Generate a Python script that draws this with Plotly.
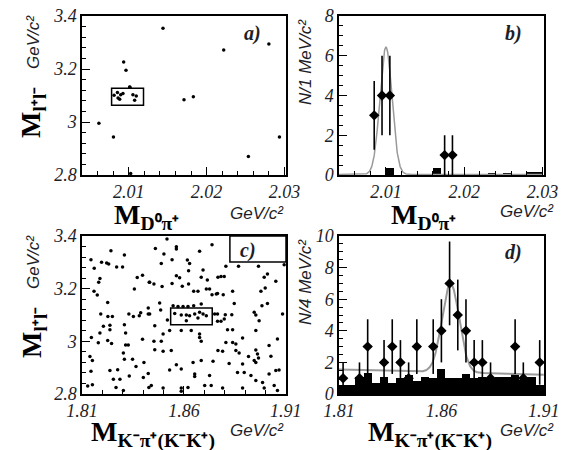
import numpy as np
import plotly.graph_objects as go

# ---------------- data ----------------
# a) scatter: M(D0 pi+) vs M(l+l-)
a_dm = [2.0144, 2.00935, 2.00965, 2.0222, 2.028, 2.0171, 2.0183, 2.00617, 2.00804,
        2.02537, 2.02936, 2.01016, 2.01025,
        2.00812, 2.00855, 2.00897, 2.00863, 2.00884, 2.00926, 2.01012, 2.01054, 2.01076, 2.01097]
a_mll = [3.354, 3.226, 3.195, 3.272, 3.294, 3.084, 3.095, 2.995, 2.943,
         2.870, 2.943, 3.131, 2.806,
         3.101, 3.111, 3.103, 3.091, 3.086, 3.108, 3.132, 3.103, 3.082, 3.098]

# b) M(D0 pi+) histogram, 1 MeV bins
b_x = [2.0085, 2.0095, 2.0105, 2.0175, 2.0185]
b_n = [3, 4, 4, 1, 1]
b_err = [1.73, 2.0, 2.0, 1.0, 1.0]
b_bkg_x = [2.0105, 2.0165, 2.0235, 2.0255, 2.0285, 2.0295]
b_bkg_n = [0.33, 0.33, 0.1, 0.1, 0.15, 0.15]
b_fit = dict(mean=2.0100, sigma=0.00077, amp=6.4, bkg=0.03)

# c) scatter: M(K- pi+ / K- K+) vs M(l+l-)
c_md = [1.8242, 1.8144, 1.8196, 1.8221, 1.8231, 1.8308, 1.8160, 1.8270, 1.8299, 1.8188,
        1.8182, 1.8371, 1.8397, 1.8430, 1.8159, 1.8175, 1.8357, 1.8226, 1.8192, 1.8227,
        1.8249, 1.8330, 1.8352, 1.8381, 1.8388, 1.8425, 1.8425, 1.8205, 1.8237, 1.8308,
        1.8188, 1.8237, 1.8314, 1.8146, 1.8180, 1.8226, 1.8245, 1.8314, 1.8327, 1.8397,
        1.8139, 1.8151, 1.8303, 1.8308, 1.8348, 1.8365, 1.8404, 1.8144, 1.8237, 1.8275,
        1.8254, 1.8286, 1.8332, 1.8401, 1.8425, 1.8128, 1.8151, 1.8267, 1.8303, 1.8428,
        1.8460, 1.8517, 1.8563, 1.8563, 1.8677, 1.8738, 1.8502, 1.8542, 1.8617, 1.8628,
        1.8489, 1.8623, 1.8694, 1.8563, 1.8579, 1.8685, 1.8715, 1.8432, 1.8453, 1.8493,
        1.8542, 1.8592, 1.8623, 1.8648, 1.8669, 1.8710, 1.8726, 1.8738, 1.8759, 1.8767,
        1.8481, 1.8486, 1.8432, 1.8519, 1.8457,
        1.8547, 1.8571, 1.8596, 1.8620, 1.8648, 1.8685, 1.8555, 1.8587, 1.8612, 1.8628,
        1.8653, 1.8677, 1.8694, 1.8710, 1.8612, 1.8669, 1.8751,
        1.8530, 1.8587, 1.8636, 1.8677, 1.8677, 1.8685, 1.8453, 1.8489, 1.8457, 1.8498,
        1.8538, 1.8498, 1.8767, 1.8563, 1.8587, 1.8645, 1.8685, 1.8743, 1.8530, 1.8653,
        1.8653, 1.8726, 1.8702, 1.8734, 1.8587, 1.8620, 1.8498, 1.8440, 1.8587,
        1.8806, 1.8868, 1.8966, 1.8782, 1.8798, 1.9010, 1.8994, 1.9051, 1.8765, 1.8793,
        1.8839, 1.8978, 1.8999, 1.8847, 1.8983, 1.9010, 1.8765, 1.8803, 1.8835, 1.8945,
        1.8953, 1.9084, 1.8765, 1.8782, 1.8798, 1.8969, 1.8814, 1.8839, 1.8953, 1.8888,
        1.9059, 1.8806, 1.8839, 1.8855, 1.8790, 1.8855, 1.8871, 1.8953, 1.8961, 1.9018,
        1.8917, 1.8945, 1.8953, 1.8966, 1.9027, 1.8822, 1.8888, 1.9051, 1.9067, 1.8863,
        1.8896, 1.8929, 1.9018, 1.8953, 1.8986, 1.9043, 1.9059, 1.8790, 1.8888, 1.8994,
        1.9092]
c_mll = [3.344, 3.310, 3.300, 3.297, 3.294, 3.328, 3.278, 3.282, 3.282, 3.239,
         3.224, 3.242, 3.251, 3.224, 3.190, 3.176, 3.199, 3.147, 3.104, 3.094,
         3.094, 3.104, 3.094, 3.097, 3.109, 3.127, 3.104, 3.057, 3.061, 3.063,
         3.032, 3.044, 3.032, 3.015, 2.995, 3.003, 2.992, 2.986, 2.986, 3.008,
         2.942, 2.927, 2.956, 2.932, 2.932, 2.904, 2.920, 2.886, 2.889, 2.892,
         2.856, 2.856, 2.868, 2.863, 2.878, 2.830, 2.835, 2.825, 2.813, 2.825,
         3.353, 3.389, 3.359, 3.351, 3.342, 3.367, 3.332, 3.310, 3.309, 3.296,
         3.296, 3.268, 3.271, 3.249, 3.241, 3.243, 3.233, 3.224, 3.218, 3.208,
         3.220, 3.209, 3.218, 3.190, 3.190, 3.199, 3.199, 3.177, 3.180, 3.243,
         3.146, 3.119, 3.104, 3.081, 3.059,
         3.135, 3.132, 3.132, 3.132, 3.135, 3.142, 3.106, 3.100, 3.100, 3.097,
         3.104, 3.110, 3.104, 3.097, 3.078, 3.089, 3.104,
         3.041, 3.041, 3.041, 3.028, 3.015, 3.000, 3.000, 3.000, 2.968, 2.962,
         2.965, 3.028, 2.965, 2.911, 2.895, 2.920, 2.927, 2.924, 2.891, 2.876,
         2.866, 2.870, 2.832, 2.832, 2.823, 2.825, 2.823, 2.832, 2.810,
         3.285, 3.285, 3.285, 3.246, 3.246, 3.256, 3.243, 3.228, 3.182, 3.177,
         3.190, 3.190, 3.203, 3.144, 3.135, 3.144, 3.104, 3.101, 3.101, 3.110,
         3.100, 3.104, 3.076, 3.076, 3.085, 3.078, 3.044, 3.044, 3.041, 3.013,
         3.009, 2.996, 2.996, 2.990, 2.962, 2.965, 2.956, 2.967, 2.952, 2.984,
         2.942, 2.927, 2.920, 2.937, 2.943, 2.916, 2.914, 2.889, 2.891, 2.882,
         2.882, 2.870, 2.876, 2.851, 2.844, 2.832, 2.813, 2.823, 2.823, 2.823,
         3.291]

# d) M(K- pi+ / K- K+) histogram, 4 MeV bins
D_LO, D_BIN, D_NBINS = 1.81, 0.004, 25
d_n = [1, 0, 1, 3, 0, 2, 3, 2, 1, 3, 0, 3, 4, 7, 5, 4, 2, 2, 1, 0, 0, 3, 1, 0, 2]
d_err = [1.0, 0, 1.0, 1.73, 0, 1.41, 1.73, 1.41, 1.0, 1.73, 0, 1.73, 2.0, 2.65, 2.24,
         2.0, 1.41, 1.41, 1.0, 0, 0, 1.73, 1.0, 0, 1.41]
d_bkg = [0.6, 0.6, 1.1, 1.3, 0.7, 1.1, 0.7, 1.0, 1.2, 0.8, 1.1, 1.0, 1.6, 1.0, 1.0,
         1.25, 1.0, 1.1, 1.0, 1.1, 1.1, 1.35, 0.9, 1.1, 0.6]
d_fit = dict(mean=1.8645, sigma=0.0042, amp=5.6, bkg_lo=1.55, bkg_hi=1.22)

# signal windows
SIG_DM = [2.0078, 2.0119]
SIG_MD = [1.8535, 1.8739]
SIG_MLL = [3.063, 3.127]

# tick labels
TICK_DM = [2.01, 2.02, 2.03]
TICK_MD = [1.81, 1.86, 1.91]
TICK_MLL = [2.8, 3.0, 3.2, 3.4]
LBL_DM = ["2.01", "2.02", "2.03"]
LBL_MD = ["1.81", "1.86", "1.91"]
LBL_MLL = ["2.8", "3", "3.2", "3.4"]
TICK_NB = [0, 2, 4, 6, 8]
TICK_ND = [0, 2, 4, 6, 8, 10]

# ---------------- figure ----------------
W, H = 563, 450
INK = "#1e1e28"
FIT = "#9a9a9a"

fig = go.Figure()

# a
fig.add_trace(go.Scatter(x=a_dm, y=a_mll, mode="markers", xaxis="x", yaxis="y",
                         marker=dict(color="black", size=3.5), showlegend=False))

# b
fig.add_trace(go.Bar(x=b_bkg_x, y=b_bkg_n, width=0.001, xaxis="x2", yaxis="y2",
                     marker=dict(color="black", line=dict(width=0)), showlegend=False))
bx = np.linspace(2.004, 2.03, 600)
by = b_fit["bkg"] + b_fit["amp"] * np.exp(-0.5 * ((bx - b_fit["mean"]) / b_fit["sigma"]) ** 2)
fig.add_trace(go.Scatter(x=bx, y=by, mode="lines", xaxis="x2", yaxis="y2",
                         line=dict(color=FIT, width=1.5), showlegend=False))
fig.add_trace(go.Scatter(x=b_x, y=b_n, mode="markers", xaxis="x2", yaxis="y2",
                         marker=dict(color="black", size=8, symbol="diamond"),
                         error_y=dict(type="data", array=b_err, width=0, thickness=1.6, color="black"),
                         error_x=dict(type="constant", value=0.0005, width=0, thickness=1.6, color="black"),
                         showlegend=False))

# c
fig.add_trace(go.Scatter(x=c_md, y=c_mll, mode="markers", xaxis="x3", yaxis="y3",
                         marker=dict(color="black", size=3.5), showlegend=False))

# d
d_centers = D_LO + (np.arange(D_NBINS) + 0.5) * D_BIN
fig.add_trace(go.Bar(x=d_centers, y=d_bkg, width=D_BIN, xaxis="x4", yaxis="y4",
                     marker=dict(color="black", line=dict(width=0)), showlegend=False))
dx = np.linspace(1.81, 1.91, 600)
dbk = d_fit["bkg_lo"] + (d_fit["bkg_hi"] - d_fit["bkg_lo"]) * (dx - 1.81) / 0.1
dy = dbk + d_fit["amp"] * np.exp(-0.5 * ((dx - d_fit["mean"]) / d_fit["sigma"]) ** 2)
fig.add_trace(go.Scatter(x=dx, y=dy, mode="lines", xaxis="x4", yaxis="y4",
                         line=dict(color=FIT, width=2), showlegend=False))
d_sel = [i for i, n in enumerate(d_n) if n > 0]
fig.add_trace(go.Scatter(x=[d_centers[i] for i in d_sel], y=[d_n[i] for i in d_sel],
                         mode="markers", xaxis="x4", yaxis="y4",
                         marker=dict(color="black", size=8, symbol="diamond"),
                         error_y=dict(type="data", array=[d_err[i] for i in d_sel], width=0,
                                      thickness=1.6, color="black"),
                         error_x=dict(type="constant", value=D_BIN / 2, width=0,
                                      thickness=1.6, color="black"),
                         showlegend=False))

# ---------------- axes ----------------
def px(x):
    return x / W


def py(y):
    return 1 - y / H


tickfont = dict(family="Liberation Serif", size=18, color=INK)


def axis(domain, rng, tickvals, ticktext, minor_dtick, minor_tick0, anchor):
    return dict(domain=domain, range=rng, anchor=anchor, tickmode="array",
                tickvals=tickvals, ticktext=["<i>%s</i>" % t for t in ticktext],
                ticks="inside", ticklen=8,
                tickwidth=1, tickcolor="black", showline=True, linecolor="black",
                linewidth=1.5, mirror=True, showgrid=False, zeroline=False,
                automargin=False, tickfont=tickfont,
                minor=dict(ticks="inside", ticklen=4, tickwidth=1, tickcolor="black",
                           dtick=minor_dtick, tick0=minor_tick0, showgrid=False))


XL = [px(82), px(286)]
XR = [px(339), px(544)]
YT = [py(175), py(16)]
YB = [py(394), py(236)]

fig.update_layout(
    template="none",
    width=W, height=H, margin=dict(l=0, r=0, t=0, b=0, pad=0, autoexpand=False),
    font=dict(family="Liberation Serif", color=INK),
    paper_bgcolor="white", plot_bgcolor="white", bargap=0, barmode="overlay",
    xaxis=axis(XL, [2.004, 2.0302], TICK_DM, LBL_DM, 0.002, 2.004, "y"),
    yaxis=axis(YT, [2.8, 3.4], TICK_MLL, LBL_MLL, 0.04, 2.8, "x"),
    xaxis2=axis(XR, [2.004, 2.0302], TICK_DM, LBL_DM, 0.002, 2.004, "y2"),
    yaxis2=axis(YT, [0, 8], TICK_NB, [str(v) for v in TICK_NB], 0.5, 0, "x2"),
    xaxis3=axis(XL, [1.81, 1.9101], TICK_MD, LBL_MD, 0.01, 1.81, "y3"),
    yaxis3=axis(YB, [2.8, 3.4], TICK_MLL, LBL_MLL, 0.04, 2.8, "x3"),
    xaxis4=axis(XR, [1.81, 1.9101], TICK_MD, LBL_MD, 0.01, 1.81, "y4"),
    yaxis4=axis(YB, [0, 10], TICK_ND, [str(v) for v in TICK_ND], 0.5, 0, "x4"),
)

# signal boxes and the c) label frame
fig.add_shape(type="rect", xref="x", yref="y", x0=SIG_DM[0], x1=SIG_DM[1],
              y0=SIG_MLL[0], y1=SIG_MLL[1], line=dict(color="black", width=1.5))
fig.add_shape(type="rect", xref="x3", yref="y3", x0=SIG_MD[0], x1=SIG_MD[1],
              y0=SIG_MLL[0], y1=SIG_MLL[1], line=dict(color="black", width=1.5))
fig.add_shape(type="rect", xref="x3 domain", yref="y3 domain", x0=0.725, x1=1,
              y0=0.835, y1=1, line=dict(color="black", width=1.5))

# ---------------- titles ----------------
serif_big = dict(family="Liberation Serif", size=28, color="black")
sans_unit = dict(family="Liberation Sans", size=17, color=INK)
label_font = dict(family="Liberation Serif", size=20, color=INK)

M_LL = "<b>M<sub>l⁺l⁻</sub></b>"
M_DPI = "<b>M<sub>D⁰π⁺</sub></b>"
M_KPI = "<b>M<sub>K⁻π⁺(K⁻K⁺)</sub></b>"
UNIT = "<i>GeV/c²</i>"


def note(text, x, y, font, angle=0):
    fig.add_annotation(text=text, xref="paper", yref="paper", x=px(x), y=py(y),
                       xanchor="center", yanchor="middle", showarrow=False,
                       textangle=angle, font=font)


# a
note(M_LL, 33, 113, serif_big, -90)
note(UNIT, 33, 42, sans_unit, -90)
note(M_DPI, 146, 216, serif_big)
note(UNIT, 257, 213, sans_unit)
note("<b><i>a)</i></b>", 252, 33, label_font)
# b
note("<i>N/1 MeV/c²</i>", 305, 62, sans_unit, -90)
note(M_DPI, 423, 216, serif_big)
note(UNIT, 527, 212, sans_unit)
note("<b><i>b)</i></b>", 513, 33, label_font)
# c
note(M_LL, 33, 333, serif_big, -90)
note(UNIT, 33, 262, sans_unit, -90)
note(M_KPI, 153, 434, serif_big)
note(UNIT, 257, 430, sans_unit)
note("<b><i>c)</i></b>", 248, 250, label_font)
# d
note("<i>N/4 MeV/c²</i>", 305, 282, sans_unit, -90)
note(M_KPI, 430, 434, serif_big)
note(UNIT, 527, 430, sans_unit)
note("<b><i>d)</i></b>", 513, 252, label_font)

fig.write_html("out.html")
